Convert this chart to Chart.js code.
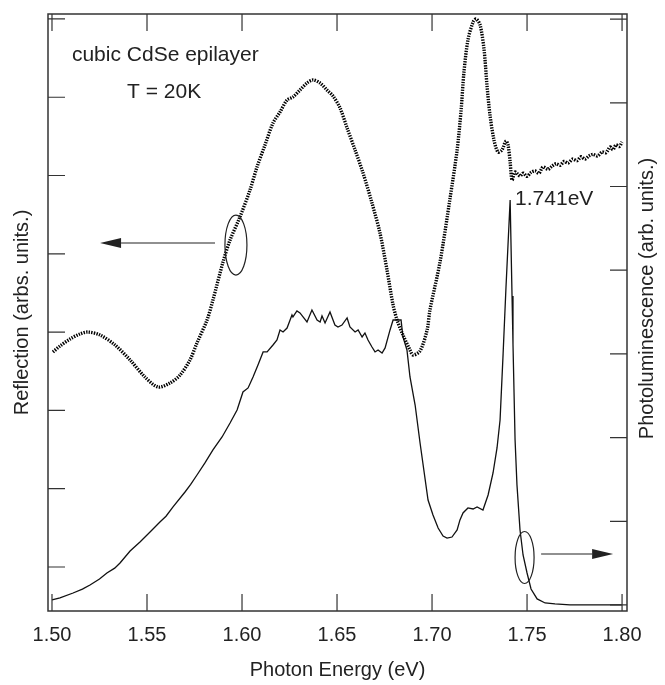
<!DOCTYPE html>
<html>
<head>
<meta charset="utf-8">
<title>cubic CdSe epilayer</title>
<script src="https://cdn.jsdelivr.net/npm/chart.js@4/dist/chart.umd.min.js"></script>
<style>
  body { margin: 0; background: #fff; }
  #wrap { width: 665px; height: 685px; }
</style>
</head>
<body>
<div id="wrap"><canvas id="chart" width="665" height="685"></canvas></div>
<script>
// Reflection (dotted, left axis)
const reflectionEnergy = [
  1.5005, 1.5042, 1.5095, 1.5147, 1.5189, 1.5253, 1.5332, 1.5411, 1.5489, 1.5558,
  1.5621, 1.5674, 1.5726, 1.5763, 1.5816, 1.5847, 1.5900, 1.5937, 1.5989, 1.6042,
  1.6079, 1.6121, 1.6163, 1.6200, 1.6237, 1.6268, 1.6305, 1.6342, 1.6374, 1.6411,
  1.6447, 1.6479, 1.6516, 1.6553, 1.6595, 1.6637, 1.6684, 1.6726, 1.6763, 1.6795,
  1.6816, 1.6847, 1.6884, 1.6900, 1.6937, 1.6974, 1.6989, 1.7042, 1.7095, 1.7132,
  1.7153, 1.7168, 1.7189, 1.7216, 1.7232, 1.7253, 1.7274, 1.7289, 1.7305, 1.7326,
  1.7347, 1.7368, 1.7389, 1.7400, 1.7411, 1.7421, 1.7437, 1.7463, 1.7480, 1.7500,
  1.7521, 1.7542, 1.7563, 1.7584, 1.7610, 1.7632, 1.7652, 1.7674, 1.7695, 1.7716,
  1.7740, 1.7763, 1.7785, 1.7805, 1.7826, 1.7847, 1.7870, 1.7895, 1.7915, 1.7937,
  1.7952, 1.7968, 1.7985, 1.8000
];
const reflectionValues = [
  2.746, 2.822, 2.912, 2.976, 3.001, 2.963, 2.835, 2.644, 2.427, 2.299,
  2.350, 2.452, 2.644, 2.861, 3.155, 3.410, 3.895, 4.176, 4.470, 4.815,
  5.109, 5.390, 5.670, 5.811, 5.964, 6.003, 6.092, 6.181, 6.220, 6.181,
  6.092, 6.015, 5.862, 5.607, 5.326, 5.032, 4.649, 4.266, 3.793, 3.346,
  3.155, 2.963, 2.771, 2.708, 2.759, 3.027, 3.282, 3.895, 4.713, 5.326,
  5.837, 6.322, 6.731, 6.960, 6.999, 6.922, 6.603, 6.156, 5.773, 5.453,
  5.300, 5.326, 5.441, 5.390, 5.172, 4.943, 5.045, 4.994, 5.030, 4.990,
  5.040, 5.057, 5.030, 5.109, 5.080, 5.121, 5.150, 5.130, 5.180, 5.160,
  5.210, 5.190, 5.240, 5.210, 5.250, 5.270, 5.250, 5.300, 5.290, 5.364,
  5.330, 5.390, 5.370, 5.428
];

// Photoluminescence (solid, right axis)
const plEnergy = [
  1.5000, 1.5042, 1.5111, 1.5160, 1.5200, 1.5250, 1.5289, 1.5330, 1.5358, 1.5411,
  1.5463, 1.5516, 1.5568, 1.5600, 1.5637, 1.5700, 1.5730, 1.5763, 1.5805, 1.5847,
  1.5895, 1.5937, 1.5974, 1.6005, 1.6032, 1.6058, 1.6084, 1.6111, 1.6132, 1.6163,
  1.6184, 1.6200, 1.6216, 1.6237, 1.6253, 1.6263, 1.6268, 1.6289, 1.6305, 1.6342,
  1.6368, 1.6395, 1.6411, 1.6421, 1.6437, 1.6463, 1.6489, 1.6505, 1.6526, 1.6553,
  1.6568, 1.6595, 1.6611, 1.6632, 1.6647, 1.6663, 1.6684, 1.6700, 1.6716, 1.6737,
  1.6753, 1.6779, 1.6795, 1.6821, 1.6837, 1.6847, 1.6868, 1.6884, 1.6911, 1.6937,
  1.6979, 1.7005, 1.7032, 1.7058, 1.7079, 1.7105, 1.7132, 1.7147, 1.7163, 1.7189,
  1.7216, 1.7237, 1.7268, 1.7295, 1.7321, 1.7342, 1.7358, 1.7374, 1.7389, 1.7400,
  1.7411, 1.7421, 1.7426, 1.7437, 1.7447, 1.7463, 1.7479, 1.7500, 1.7521, 1.7553,
  1.7595, 1.7647, 1.7726, 1.7832, 1.7937, 1.8000
];
const plValues = [
  0.060, 0.084, 0.143, 0.190, 0.239, 0.310, 0.382, 0.440, 0.502, 0.645,
  0.753, 0.872, 0.992, 1.060, 1.171, 1.350, 1.440, 1.553, 1.697, 1.852,
  2.007, 2.174, 2.330, 2.545, 2.593, 2.724, 2.867, 3.023, 3.023, 3.106,
  3.166, 3.286, 3.262, 3.309, 3.405, 3.465, 3.441, 3.513, 3.489, 3.381,
  3.524, 3.405, 3.381, 3.453, 3.369, 3.501, 3.345, 3.321, 3.345, 3.429,
  3.321, 3.262, 3.286, 3.202, 3.250, 3.166, 3.082, 3.023, 3.047, 3.011,
  3.071, 3.286, 3.405, 3.405, 3.405, 3.202, 3.047, 2.724, 2.389, 1.935,
  1.254, 1.075, 0.920, 0.824, 0.800, 0.812, 0.896, 1.016, 1.099, 1.159,
  1.147, 1.171, 1.135, 1.314, 1.577, 1.876, 2.210, 3.000, 3.787, 4.313,
  4.839, 3.692, 3.118, 1.971, 1.434, 0.896, 0.597, 0.382, 0.191, 0.072,
  0.024, 0.012, 0.000, 0.000, 0.000, 0.000
];

const xTicks = [1.50, 1.55, 1.60, 1.65, 1.70, 1.75, 1.80];
const leftTicks = [0, 1, 2, 3, 4, 5, 6, 7];
const rightTicks = [0, 1, 2, 3, 4, 5, 6, 7];

const INK = '#222';
const FONT = '"Liberation Sans", Arial, Helvetica, sans-serif';
const TICK = 17;

const toPoints = (xs, ys) => xs.map((x, i) => ({ x: x, y: ys[i] }));

const decorations = {
  id: 'decorations',
  afterDraw(chart) {
    const { ctx, chartArea: a, scales } = chart;
    const x = scales.x, yL = scales.yL, yR = scales.yR;
    ctx.save();

    // frame
    ctx.strokeStyle = '#333';
    ctx.lineWidth = 1.5;
    ctx.strokeRect(a.left, a.top, a.right - a.left, a.bottom - a.top);

    // inward ticks
    ctx.lineWidth = 1.2;
    ctx.beginPath();
    x.ticks.forEach(t => {
      const px = x.getPixelForValue(t.value);
      ctx.moveTo(px, a.bottom); ctx.lineTo(px, a.bottom - TICK);
      ctx.moveTo(px, a.top); ctx.lineTo(px, a.top + TICK);
    });
    yL.ticks.forEach(t => {
      const py = yL.getPixelForValue(t.value);
      ctx.moveTo(a.left, py); ctx.lineTo(a.left + TICK, py);
    });
    yR.ticks.forEach(t => {
      const py = yR.getPixelForValue(t.value);
      ctx.moveTo(a.right, py); ctx.lineTo(a.right - TICK, py);
    });
    ctx.stroke();

    // ellipses and arrows marking which axis each curve uses
    ctx.strokeStyle = INK;
    ctx.fillStyle = INK;
    ctx.lineWidth = 1.2;
    const arrow = (x0, x1, y, head) => {
      const dir = Math.sign(x1 - x0);
      ctx.beginPath();
      ctx.moveTo(x0, y); ctx.lineTo(x1 - dir * head, y);
      ctx.stroke();
      ctx.beginPath();
      ctx.moveTo(x1, y);
      ctx.lineTo(x1 - dir * head, y - 5);
      ctx.lineTo(x1 - dir * head, y + 5);
      ctx.closePath();
      ctx.fill();
    };
    ctx.beginPath();
    ctx.ellipse(x.getPixelForValue(1.5968), yL.getPixelForValue(4.112), 11, 30, 0, 0, Math.PI * 2);
    ctx.stroke();
    arrow(x.getPixelForValue(1.5858), x.getPixelForValue(1.5253), yL.getPixelForValue(4.138), 21);

    ctx.beginPath();
    ctx.ellipse(x.getPixelForValue(1.7487), yR.getPixelForValue(0.567), 9.5, 26, 0, 0, Math.PI * 2);
    ctx.stroke();
    arrow(x.getPixelForValue(1.7574), x.getPixelForValue(1.7953), yR.getPixelForValue(0.609), 21);

    // annotations
    ctx.font = '21px ' + FONT;
    ctx.textBaseline = 'middle';
    ctx.textAlign = 'left';
    ctx.fillText('cubic CdSe epilayer', x.getPixelForValue(1.5105), yL.getPixelForValue(6.539));
    ctx.fillText('T = 20K', x.getPixelForValue(1.5395), yL.getPixelForValue(6.066));
    ctx.fillText('1.741eV', x.getPixelForValue(1.7437), yR.getPixelForValue(4.851));

    // right axis title, reading bottom to top
    ctx.font = '20px ' + FONT;
    ctx.textAlign = 'center';
    ctx.translate(647, (a.top + a.bottom) / 2 - 14);
    ctx.rotate(-Math.PI / 2);
    ctx.fillText('Photoluminescence (arb. units.)', 0, 0);
    ctx.restore();
  }
};

new Chart(document.getElementById('chart'), {
  type: 'line',
  data: {
    datasets: [
      {
        label: 'Reflection',
        data: toPoints(reflectionEnergy, reflectionValues),
        yAxisID: 'yL',
        borderColor: '#000',
        borderWidth: 3.4,
        borderDash: [1.4, 1.2],
        pointRadius: 0,
        tension: 0.3,
        fill: false
      },
      {
        label: 'Photoluminescence',
        data: toPoints(plEnergy, plValues),
        yAxisID: 'yR',
        borderColor: '#111',
        borderWidth: 1.3,
        pointRadius: 0,
        tension: 0,
        fill: false
      }
    ]
  },
  options: {
    responsive: false,
    animation: false,
    devicePixelRatio: 1,
    layout: { padding: { top: 14, left: 0, right: 0, bottom: 0 } },
    plugins: { legend: { display: false }, tooltip: { enabled: false } },
    scales: {
      x: {
        type: 'linear',
        position: 'bottom',
        min: 1.4979,
        max: 1.8026,
        afterBuildTicks: s => { s.ticks = xTicks.map(v => ({ value: v })); },
        afterFit: s => { s.height = 74; },
        grid: { display: false, drawTicks: false },
        border: { display: false },
        ticks: {
          color: INK,
          padding: 12,
          font: { family: FONT, size: 20 },
          callback: v => Number(v).toFixed(2)
        },
        title: {
          display: true,
          text: 'Photon Energy (eV)',
          color: INK,
          font: { family: FONT, size: 20 },
          padding: { top: 0, bottom: 3 }
        }
      },
      yL: {
        type: 'linear',
        position: 'left',
        min: -0.562,
        max: 7.063,
        afterBuildTicks: s => { s.ticks = leftTicks.map(v => ({ value: v })); },
        afterFit: s => { s.width = 48; },
        grid: { display: false, drawTicks: false },
        border: { display: false },
        ticks: { display: false },
        title: {
          display: true,
          text: 'Reflection (arbs. units.)',
          color: INK,
          font: { family: FONT, size: 20 },
          padding: { top: 10, bottom: 0 }
        }
      },
      yR: {
        type: 'linear',
        position: 'right',
        min: -0.072,
        max: 7.061,
        afterBuildTicks: s => { s.ticks = rightTicks.map(v => ({ value: v })); },
        afterFit: s => { s.width = 38; },
        grid: { display: false, drawTicks: false },
        border: { display: false },
        ticks: { display: false },
        title: { display: false }
      }
    }
  },
  plugins: [decorations]
});
</script>
</body>
</html>
